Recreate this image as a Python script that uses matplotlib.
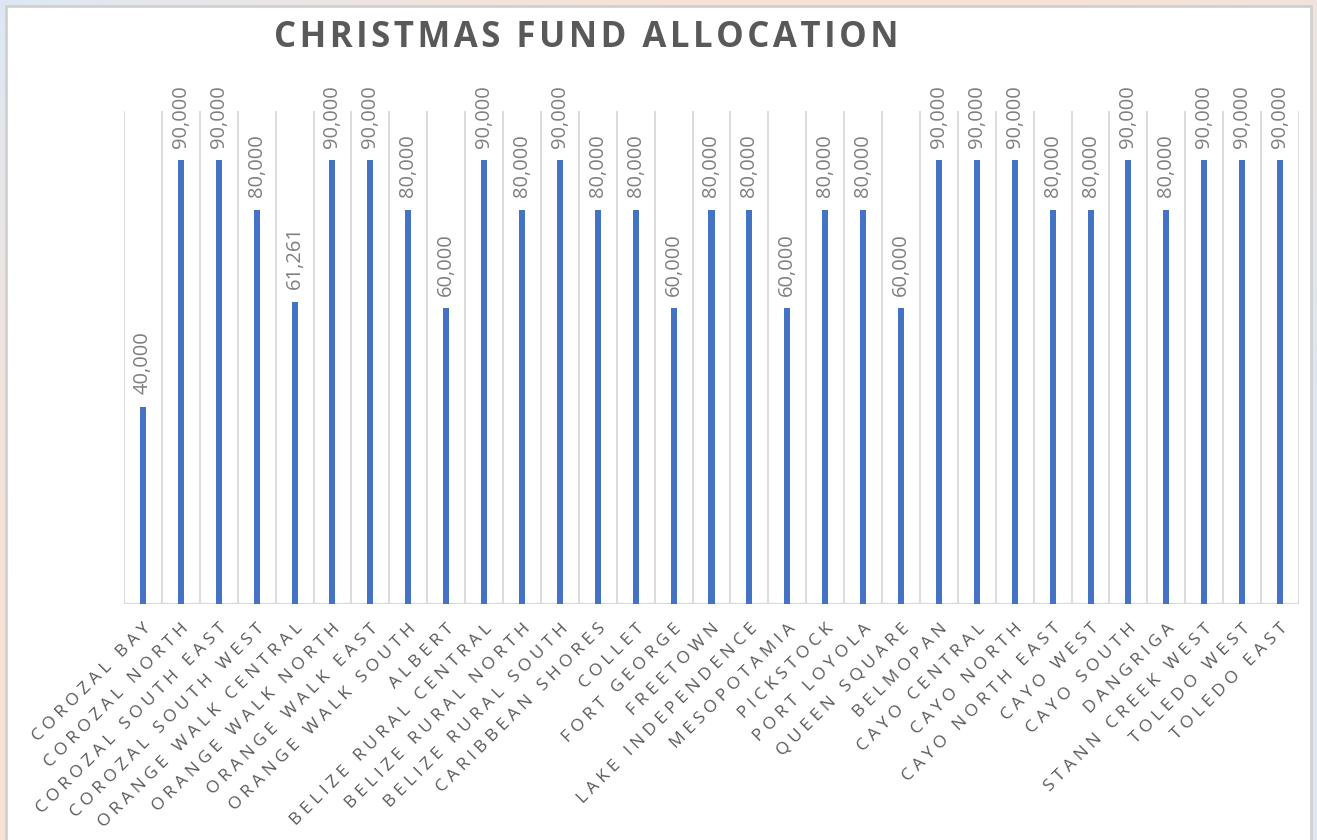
import numpy as np
import matplotlib
matplotlib.use('Agg')
import matplotlib.pyplot as plt
from matplotlib.colors import LinearSegmentedColormap
from matplotlib.patches import Rectangle

plt.rcParams['font.family'] = ['Open Sans', 'DejaVu Sans']

constituencies = [
    'COROZAL BAY', 'COROZAL NORTH', 'COROZAL SOUTH EAST', 'COROZAL SOUTH WEST',
    'ORANGE WALK CENTRAL', 'ORANGE WALK NORTH', 'ORANGE WALK EAST', 'ORANGE WALK SOUTH',
    'ALBERT', 'BELIZE RURAL CENTRAL', 'BELIZE RURAL NORTH', 'BELIZE RURAL SOUTH',
    'CARIBBEAN SHORES', 'COLLET', 'FORT GEORGE', 'FREETOWN', 'LAKE INDEPENDENCE',
    'MESOPOTAMIA', 'PICKSTOCK', 'PORT LOYOLA', 'QUEEN SQUARE', 'BELMOPAN',
    'CAYO CENTRAL', 'CAYO NORTH', 'CAYO NORTH EAST', 'CAYO WEST', 'CAYO SOUTH',
    'DANGRIGA', 'STANN CREEK WEST', 'TOLEDO WEST', 'TOLEDO EAST',
]
allocation = [
    40000, 90000, 90000, 80000, 61261, 90000, 90000, 80000,
    60000, 90000, 80000, 90000, 80000, 80000, 60000, 80000, 80000,
    60000, 80000, 80000, 60000, 90000,
    90000, 90000, 80000, 80000, 90000,
    80000, 90000, 90000, 90000,
]

BAR_COLOR = '#4472C4'
GRID_COLOR = '#d9d9d9'
TEXT_GRAY = '#595959'
LABEL_GRAY = '#7f7f7f'


def tracked(s, sep):
    # widen letter spacing by putting a spacer between characters
    return sep.join(s)


W, H = 1317, 840
fig = plt.figure(figsize=(W / 100, H / 100), dpi=100)

# soft diagonal backdrop behind the chart area
bg = fig.add_axes([0, 0, 1, 1], zorder=-10)
yy, xx = np.mgrid[0:1:200j, 0:1:300j]
t = np.sin(np.clip(xx * 0.75 + yy * 0.55, 0, 1) * np.pi)
cmap = LinearSegmentedColormap.from_list('bg', ['#dde8f4', '#f8e2d5'])
bg.imshow(t, cmap=cmap, aspect='auto', extent=[0, 1, 0, 1], origin='upper')
bg.add_patch(Rectangle((6 / W, -0.01), (1311 - 6) / W, 1 - 6 / H + 0.01,
                       transform=bg.transAxes, facecolor='white',
                       edgecolor='#d0d0d0', linewidth=2))
bg.set_xlim(0, 1)
bg.set_ylim(0, 1)
bg.axis('off')

left, right = 124 / W, 1299 / W
bottom, top = 1 - 604 / H, 1 - 111 / H
ax = fig.add_axes([left, bottom, right - left, top - bottom])
ax.set_facecolor('none')

n = len(constituencies)
x = np.arange(n)
ax.bar(x, allocation, width=0.16, color=BAR_COLOR, zorder=3)

ax.set_xlim(-0.5, n - 0.5)
ax.set_ylim(0, 100000)

# category boundary gridlines
for b in np.arange(-0.5, n, 1.0):
    ax.axvline(b, color=GRID_COLOR, linewidth=1.3, zorder=1)
ax.axhline(0, color=GRID_COLOR, linewidth=1.6, zorder=2)

for s in ax.spines.values():
    s.set_visible(False)
ax.set_yticks([])
ax.set_xticks(x)
ax.set_xticklabels([tracked(c, ' ') for c in constituencies], rotation=45,
                   ha='right', va='top', rotation_mode='anchor',
                   fontsize=12.5, color=TEXT_GRAY)
ax.tick_params(axis='x', length=0, pad=12)

for xi, v in zip(x, allocation):
    ax.annotate(f'{v:,}', (xi, v), xytext=(0, 9), textcoords='offset points',
                rotation=90, ha='center', va='bottom', fontsize=14.5,
                color=LABEL_GRAY)

fig.text(586 / W, 1 - 38 / H, tracked('CHRISTMAS FUND ALLOCATION', '\u200a'),
         ha='center', va='center', fontsize=25, fontweight='bold',
         color=TEXT_GRAY)

fig.savefig('out.png', dpi=100)
